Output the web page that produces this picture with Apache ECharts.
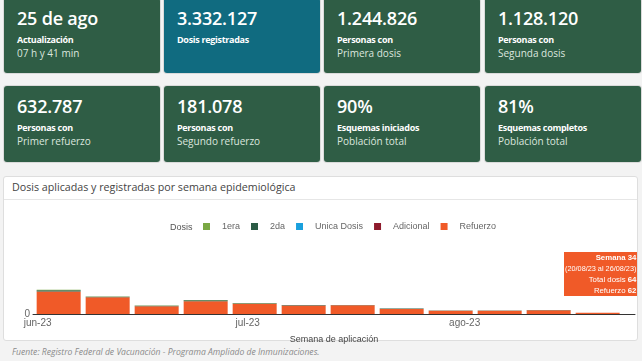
<!DOCTYPE html>
<html><head><meta charset="utf-8">
<script src="https://cdn.jsdelivr.net/npm/echarts@6/dist/echarts.min.js"></script>
<style>
html,body{margin:0;padding:0;}
body{width:642px;height:361px;background:#f3f3f3;position:relative;overflow:hidden;font-family:"Open Sans",sans-serif;}
.card{position:absolute;border-radius:3px;background:#2f5d45;color:#fff;box-shadow:0 0 0 1px rgba(0,0,0,0.10);}
.card.teal{background:#106b80;}
.card .v{position:absolute;left:13px;top:11px;font-size:18px;font-weight:600;line-height:18px;white-space:nowrap;letter-spacing:-0.2px;}
.card .b{position:absolute;left:13px;top:37px;font-size:9px;font-weight:700;line-height:9px;white-space:nowrap;letter-spacing:-0.3px;}
.card .r{position:absolute;left:13px;top:50px;font-size:10px;line-height:10px;color:#dce6df;white-space:nowrap;}
.panel{position:absolute;left:3px;top:176px;width:633px;height:163px;background:#fff;border:1px solid #dedede;border-radius:3px;}
.panel .hdr{position:absolute;left:8px;top:5px;font-size:10.7px;line-height:11px;color:#444;white-space:nowrap;}
.panel .sep{position:absolute;left:0;right:0;top:22px;height:1px;background:#e6e6e6;}
#chart{position:absolute;left:4px;top:200px;width:633px;height:145px;}
.foot{position:absolute;left:12px;top:348px;font-size:8.6px;line-height:9px;font-style:italic;color:#8a8a8a;white-space:nowrap;}
</style></head>
<body>
<div id="cards"></div>
<div class="panel"><div class="hdr">Dosis aplicadas y registradas por semana epidemiológica</div><div class="sep"></div></div>
<div id="chart"></div>
<div class="foot">Fuente: Registro Federal de Vacunación - Programa Ampliado de Inmunizaciones.</div>
<script>
// KPI cards
const kpiValues = ['25 de ago','3.332.127','1.244.826','1.128.120','632.787','181.078','90%','81%'];
const kpiLabels = ['Actualización','Dosis registradas','Personas con','Personas con','Personas con','Personas con','Esquemas iniciados','Esquemas completos'];
const kpiSubs = ['07 h y 41 min','','Primera dosis','Segunda dosis','Primer refuerzo','Segundo refuerzo','Población total','Población total'];

// chart data
const weekStarts = ['2023-06-04','2023-06-11','2023-06-18','2023-06-25','2023-07-02','2023-07-09','2023-07-16','2023-07-23','2023-07-30','2023-08-06','2023-08-13','2023-08-20'];
const weekNumbers = [23,24,25,26,27,28,29,30,31,32,33,34];
const primera   = [20,8,8,12,8,5,4,5,2,2,3,1];
const segunda   = [70,29,28,48,30,16,12,19,7,5,8,1];
const unica     = [0,0,0,0,0,0,0,0,0,0,0,0];
const adicional = [0,0,0,0,0,0,0,0,0,0,0,0];
const refuerzo  = [1140,850,395,650,520,435,440,255,168,170,192,62];
const monthNames = ['ene','feb','mar','abr','may','jun','jul','ago','sep','oct','nov','dic'];
const seriesNames = ['1era','2da','Unica Dosis','Adicional','Refuerzo'];

// build cards
(function(){
  const lefts=[4,164,324,485];
  const host=document.getElementById('cards');
  kpiValues.forEach((v,i)=>{
    const row=Math.floor(i/4), col=i%4;
    const d=document.createElement('div');
    d.className='card'+(i===1?' teal':'');
    d.style.left=lefts[col]+'px';
    d.style.width='156px';
    d.style.top=(row===0?-2:86)+'px';
    d.style.height=(row===0?75:76)+'px';
    d.innerHTML='<div class="v">'+v+'</div><div class="b">'+kpiLabels[i]+'</div>'+(kpiSubs[i]?'<div class="r">'+kpiSubs[i]+'</div>':'');
    host.appendChild(d);
  });
})();

function parseDate(s){const p=s.split('-').map(Number);return new Date(p[0],p[1]-1,p[2]);}
function fmt(d){const z=n=>(n<10?'0':'')+n;return z(d.getDate())+'/'+z(d.getMonth()+1)+'/'+String(d.getFullYear()).slice(2);}
const times = weekStarts.map(s=>parseDate(s).getTime());
const pair = arr => arr.map((v,i)=>[times[i],v]);

const W=633, GL=29, GR=2, BAR_W=44;
// ECharts widens a time axis by half a bar on each side; pre-shrink so the final extent is the wanted one
const wantMin = new Date(2023,4,31,8).getTime(), wantMax = new Date(2023,7,25,8).getTime();
const axisLen = W-GL-GR;
const span = wantMax-wantMin;
const shrink = span*(BAR_W/axisLen)/2;

const chart = echarts.init(document.getElementById('chart'));
const baseFont = '"Liberation Sans", Arial, sans-serif';
const colors = {'1era':'#7aa843','2da':'#2b5b45','Unica Dosis':'#1aa0dd','Adicional':'#8e1b2c','Refuerzo':'#f05a28'};
const dataMap = {'1era':primera,'2da':segunda,'Unica Dosis':unica,'Adicional':adicional,'Refuerzo':refuerzo};
const stackOrder = ['Refuerzo','Adicional','Unica Dosis','2da','1era'];

chart.setOption({
  animation:false,
  grid:{left:GL,right:GR,top:45,bottom:31,containLabel:false,outerBoundsMode:'none'},
  legend:{data:seriesNames,left:199,top:22,padding:0,icon:'rect',itemWidth:7,itemHeight:7,itemGap:11,
    textStyle:{fontSize:9,color:'#666',fontFamily:baseFont,padding:[0,0,0,7]}},
  graphic:[{type:'text',left:166,top:23,style:{text:'Dosis',fill:'#555',font:'9px "Liberation Sans", Arial, sans-serif'}}],
  tooltip:{trigger:'item',triggerOn:'none',alwaysShowContent:true,transitionDuration:0,
    backgroundColor:'#f05a28',borderWidth:0,borderRadius:0,padding:[0,1,0,1],
    textStyle:{color:'#fff',fontSize:7.8,fontFamily:baseFont,lineHeight:11},
    extraCssText:'box-shadow:none;text-align:right;line-height:11px;border-radius:0;',
    position:function(point,params,dom,rect,size){return [size.viewSize[0]-size.contentSize[0],52];},
    formatter:function(p){
      const i=p.dataIndex;
      const start=parseDate(weekStarts[i]);
      const end=new Date(start.getFullYear(),start.getMonth(),start.getDate()+6);
      const total=primera[i]+segunda[i]+unica[i]+adicional[i]+refuerzo[i];
      return '<b>Semana '+weekNumbers[i]+'</b><br/><span style="font-size:7.3px">('+fmt(start)+' al '+fmt(end)+')</span><br/>Total dosis <b>'+total+'</b><br/>'+p.seriesName+' <b>'+p.value[1]+'</b>';
    }},
  xAxis:{type:'time',min:wantMin+shrink,max:wantMax-shrink,splitNumber:3,
    axisLine:{lineStyle:{color:'#333',width:1}},axisTick:{show:false},splitLine:{show:false},
    axisLabel:{color:'#666',fontSize:10,fontFamily:baseFont,margin:4,showMinLabel:false,showMaxLabel:false,
      formatter:function(v){const d=new Date(v);return (d.getDate()===1&&d.getHours()===0)?monthNames[d.getMonth()]+'-'+String(d.getFullYear()).slice(2):'';}},
    name:'Semana de aplicación',nameLocation:'middle',nameGap:21,
    nameTextStyle:{color:'#444',fontSize:9,fontFamily:baseFont}},
  yAxis:{type:'value',min:0,max:3500,interval:3500,axisLine:{show:false},axisTick:{show:false},splitLine:{show:false},
    axisLabel:{margin:3,color:'#666',fontSize:10,fontFamily:baseFont,formatter:function(v){return v===0?'0':'';}}},
  series:stackOrder.map(n=>({name:n,type:'bar',stack:'dosis',barWidth:BAR_W,data:pair(dataMap[n]),
    itemStyle:{color:colors[n]},emphasis:{disabled:true}}))
});
chart.dispatchAction({type:'showTip',seriesIndex:0,dataIndex:11});
</script>
</body></html>
